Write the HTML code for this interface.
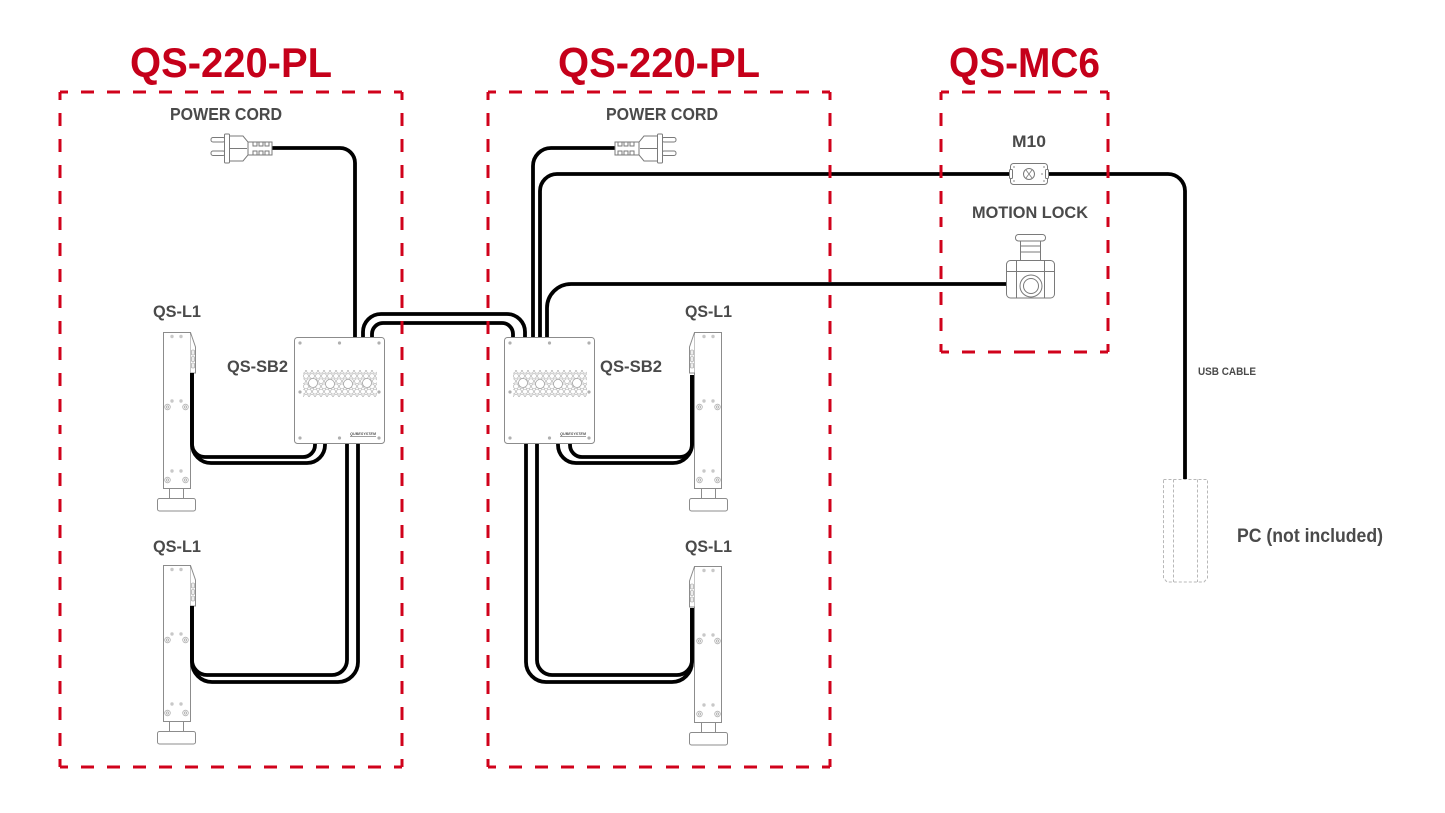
<!DOCTYPE html>
<html><head><meta charset="utf-8"><style>html,body{margin:0;padding:0;background:#fff}svg{display:block}</style></head>
<body>
<svg width="1445" height="813" viewBox="0 0 1445 813" xmlns="http://www.w3.org/2000/svg">
<defs>
<pattern id="hex" width="6" height="10.4" patternUnits="userSpaceOnUse" x="0" y="0">
<circle cx="3" cy="2.6" r="2.5" fill="none" stroke="#b5b5b5" stroke-width="0.7"/>
<circle cx="0" cy="7.8" r="2.5" fill="none" stroke="#b5b5b5" stroke-width="0.7"/>
<circle cx="6" cy="7.8" r="2.5" fill="none" stroke="#b5b5b5" stroke-width="0.7"/>
</pattern>
<g id="sb2">
<rect x="0.5" y="0.5" width="90" height="106" rx="3" fill="#fff" stroke="#8c8c8c" stroke-width="1"/>
<g fill="#b0b0b0">
<circle cx="6" cy="6" r="1.6"/><circle cx="45.5" cy="6" r="1.6"/><circle cx="85" cy="6" r="1.6"/>
<circle cx="6" cy="55" r="1.6"/><circle cx="85" cy="55" r="1.6"/>
<circle cx="6" cy="101" r="1.6"/><circle cx="45.5" cy="101" r="1.6"/><circle cx="85" cy="101" r="1.6"/>
</g>
<rect x="9" y="33" width="74" height="27" fill="url(#hex)"/>
<g fill="#fff" stroke="#a8a8a8" stroke-width="0.8">
<circle cx="19" cy="46" r="4.5"/><circle cx="36" cy="47" r="4.5"/><circle cx="54" cy="47" r="4.5"/><circle cx="73" cy="46" r="4.5"/>
</g>
<text x="56" y="98" font-family="Liberation Sans, sans-serif" font-size="4" font-weight="bold" font-style="italic" fill="#555" textLength="26" lengthAdjust="spacingAndGlyphs">QUBESYSTEM</text>
<line x1="56" y1="99.6" x2="82" y2="99.6" stroke="#666" stroke-width="0.6"/>
</g>
<g id="l1">
<rect x="0.5" y="0.5" width="27" height="156" fill="#fff" stroke="#8c8c8c" stroke-width="1"/>
<path d="M27.5,0.5 L32.5,15 V41 H27.5" fill="#fff" stroke="#8c8c8c" stroke-width="1"/>
<g fill="#eee" stroke="#999" stroke-width="0.6">
<rect x="28.5" y="18" width="3" height="5" rx="1"/><rect x="28.5" y="24.5" width="3" height="5" rx="1"/><rect x="28.5" y="31" width="3" height="5" rx="1"/>
</g>
<g fill="#c8c8c8">
<circle cx="9" cy="4.5" r="1.7"/><circle cx="18" cy="4.5" r="1.7"/>
<circle cx="9" cy="69" r="1.7"/><circle cx="18" cy="69" r="1.7"/>
<circle cx="9" cy="139" r="1.7"/><circle cx="18" cy="139" r="1.7"/>
</g>
<g fill="none" stroke="#b0b0b0" stroke-width="0.8">
<circle cx="4.5" cy="75" r="2.8"/><circle cx="22.5" cy="75" r="2.8"/>
<circle cx="4.5" cy="148" r="2.8"/><circle cx="22.5" cy="148" r="2.8"/>
<circle cx="4.5" cy="75" r="1.2"/><circle cx="22.5" cy="75" r="1.2"/>
<circle cx="4.5" cy="148" r="1.2"/><circle cx="22.5" cy="148" r="1.2"/>
</g>
<rect x="6.5" y="156.5" width="14" height="10" fill="#fff" stroke="#8c8c8c" stroke-width="1"/>
<rect x="-5.5" y="166.5" width="38" height="12.5" rx="2" fill="#fff" stroke="#8c8c8c" stroke-width="1"/>
</g>
<g id="plug" fill="#fff" stroke="#7a7a7a" stroke-width="1">
<rect x="211" y="137.5" width="14" height="4.5" rx="2"/>
<rect x="211" y="151" width="14" height="4.5" rx="2"/>
<rect x="224.5" y="134" width="5" height="29" rx="1"/>
<path d="M229.5,136 H243 L248,142 V155 L243,161 H229.5 Z"/>
<line x1="229.5" y1="148.5" x2="247" y2="148.5"/>
<path d="M248,142 H272 V155 H248 Z"/>
<path d="M253,142 V146 H257 V142 M259,142 V146 H263 V142 M265,142 V146 H269 V142 M253,155 V151 H257 V155 M259,155 V151 H263 V155 M265,155 V151 H269 V155" fill="none"/>
</g>
</defs>

<!-- devices under cables -->
<use href="#l1" transform="translate(163,332)"/>
<use href="#l1" transform="translate(163,565)"/>
<use href="#l1" transform="translate(722,332) scale(-1,1)"/>
<use href="#l1" transform="translate(722,566) scale(-1,1)"/>

<!-- cables -->
<g fill="none" stroke="#000" stroke-width="3.8" stroke-linejoin="round">
<path d="M272,148 H340 A15,15 0 0 1 355,163 V337"/>
<path d="M363,337 V332 A18,18 0 0 1 381,314 H507 A18,18 0 0 1 525,332 V337"/>
<path d="M372,337 V334 A11,11 0 0 1 383,323 H502 A11,11 0 0 1 513,334 V337"/>
<path d="M533,337 V166 A18,18 0 0 1 551,148 H615"/>
<path d="M540,337 V191 A17,17 0 0 1 557,174 H1168 A17,17 0 0 1 1185,191 V479"/>
<path d="M547,337 V308 A24,24 0 0 1 571,284 H1007"/>
<!-- left SB2 to top L1 -->
<path d="M315,444 V445 A12,12 0 0 1 303,457 H205 A13,13 0 0 1 192,444 V373"/>
<path d="M325,444 V445 A18,18 0 0 1 307,463 H211 A19,19 0 0 1 192,444 V373"/>
<!-- left SB2 to bottom L1 -->
<path d="M347,444 V660 A15,15 0 0 1 332,675 H207 A15,15 0 0 1 192,660 V606"/>
<path d="M358,444 V662 A20,20 0 0 1 338,682 H212 A20,20 0 0 1 192,662 V606"/>
<!-- right SB2 to top L1 -->
<path d="M570,444 V445 A12,12 0 0 0 582,457 H680 A12,12 0 0 0 692,445 V375"/>
<path d="M558,444 V445 A18,18 0 0 0 576,463 H673 A19,19 0 0 0 692,444 V375"/>
<!-- right SB2 to bottom L1 -->
<path d="M537,444 V660 A15,15 0 0 0 552,675 H677 A15,15 0 0 0 692,660 V608"/>
<path d="M526,444 V662 A20,20 0 0 0 546,682 H672 A20,20 0 0 0 692,662 V608"/>
</g>

<!-- SB2 boxes -->
<use href="#sb2" transform="translate(294,337)"/>
<use href="#sb2" transform="translate(504,337)"/>

<!-- plugs -->
<use href="#plug"/>
<use href="#plug" transform="translate(887,0) scale(-1,1)"/>

<!-- M10 -->
<g fill="#fff" stroke="#7a7a7a" stroke-width="1">
<rect x="1010.5" y="163.5" width="37" height="21" rx="3"/>
<rect x="1009.5" y="169.5" width="3" height="9" rx="1"/>
<rect x="1045.5" y="169.5" width="3" height="9" rx="1"/>
<circle cx="1029" cy="174" r="5.5"/>
<path d="M1026,170 L1029,174 L1026,178 M1032,170 L1029,174 L1032,178" fill="none" stroke-width="0.8"/>
<circle cx="1014" cy="167" r="0.9" fill="#999" stroke="none"/><circle cx="1044" cy="167" r="0.9" fill="#999" stroke="none"/>
<circle cx="1014" cy="181" r="0.9" fill="#999" stroke="none"/><circle cx="1044" cy="181" r="0.9" fill="#999" stroke="none"/>
<circle cx="1042" cy="174" r="0.9" fill="#999" stroke="none"/>
</g>

<!-- Motion lock -->
<g fill="#fff" stroke="#7a7a7a" stroke-width="1">
<rect x="1020.5" y="240.5" width="20" height="20"/>
<line x1="1020.5" y1="246" x2="1040.5" y2="246"/>
<line x1="1020.5" y1="252" x2="1040.5" y2="252"/>
<rect x="1015.5" y="234.5" width="30" height="6.5" rx="3"/>
<rect x="1006.5" y="260.5" width="48" height="37.5" rx="4"/>
<path d="M1016.5,260.5 V298 M1044.5,260.5 V298 M1006.5,271.5 H1054.5" fill="none"/>
<circle cx="1031" cy="286" r="11"/>
<circle cx="1031" cy="286" r="7.5"/>
</g>

<!-- PC -->
<g fill="none" stroke="#b8b8b8" stroke-width="1" stroke-dasharray="3 2">
<path d="M1163.5,479.5 H1207.5 V578 L1204,582 H1167 L1163.5,578 Z"/>
<line x1="1173.5" y1="479.5" x2="1173.5" y2="582"/>
<line x1="1197.5" y1="479.5" x2="1197.5" y2="582"/>
</g>

<!-- dashed boxes -->
<g fill="none" stroke="#d0021b" stroke-width="3" stroke-dasharray="13 13" stroke-dashoffset="5">
<line x1="60" y1="92" x2="231" y2="92"/><line x1="402" y1="92" x2="231" y2="92"/>
<line x1="60" y1="767" x2="231" y2="767"/><line x1="402" y1="767" x2="231" y2="767"/>
<line x1="60" y1="92" x2="60" y2="430"/><line x1="60" y1="767" x2="60" y2="430"/>
<line x1="402" y1="92" x2="402" y2="430"/><line x1="402" y1="767" x2="402" y2="430"/>

<line x1="488" y1="92" x2="659" y2="92"/><line x1="830" y1="92" x2="659" y2="92"/>
<line x1="488" y1="767" x2="659" y2="767"/><line x1="830" y1="767" x2="659" y2="767"/>
<line x1="488" y1="92" x2="488" y2="430"/><line x1="488" y1="767" x2="488" y2="430"/>
<line x1="830" y1="92" x2="830" y2="430"/><line x1="830" y1="767" x2="830" y2="430"/>

<line x1="941" y1="92" x2="1024.5" y2="92"/><line x1="1108" y1="92" x2="1024.5" y2="92"/>
<line x1="941" y1="352" x2="1024.5" y2="352"/><line x1="1108" y1="352" x2="1024.5" y2="352"/>
<line x1="941" y1="92" x2="941" y2="222"/><line x1="941" y1="352" x2="941" y2="222"/>
<line x1="1108" y1="92" x2="1108" y2="222"/><line x1="1108" y1="352" x2="1108" y2="222"/>
</g>

<!-- text -->
<g font-family="Liberation Sans, Arial, sans-serif" font-weight="bold">
<g fill="#c5001a" font-size="42">
<text x="130" y="77" textLength="202" lengthAdjust="spacingAndGlyphs">QS-220-PL</text>
<text x="558" y="77" textLength="202" lengthAdjust="spacingAndGlyphs">QS-220-PL</text>
<text x="949" y="77" textLength="151" lengthAdjust="spacingAndGlyphs">QS-MC6</text>
</g>
<g fill="#4a4a4a" font-size="17.5">
<text x="170" y="120" textLength="112" lengthAdjust="spacingAndGlyphs">POWER CORD</text>
<text x="606" y="120" textLength="112" lengthAdjust="spacingAndGlyphs">POWER CORD</text>
</g>
<g fill="#4a4a4a" font-size="17">
<text x="153" y="317" textLength="48" lengthAdjust="spacingAndGlyphs">QS-L1</text>
<text x="153" y="552" textLength="48" lengthAdjust="spacingAndGlyphs">QS-L1</text>
<text x="685" y="317" textLength="47" lengthAdjust="spacingAndGlyphs">QS-L1</text>
<text x="685" y="552" textLength="47" lengthAdjust="spacingAndGlyphs">QS-L1</text>
<text x="227" y="372" textLength="61" lengthAdjust="spacingAndGlyphs">QS-SB2</text>
<text x="600" y="372" textLength="62" lengthAdjust="spacingAndGlyphs">QS-SB2</text>
<text x="1012" y="147" textLength="34" lengthAdjust="spacingAndGlyphs">M10</text>
<text x="972" y="218" textLength="116" lengthAdjust="spacingAndGlyphs">MOTION LOCK</text>
</g>
<text x="1198" y="375" fill="#4a4a4a" font-size="11" textLength="58" lengthAdjust="spacingAndGlyphs">USB CABLE</text>
<text x="1237" y="542" fill="#4a4a4a" font-size="19" textLength="146" lengthAdjust="spacingAndGlyphs">PC (not included)</text>
</g>
</svg>
</body></html>
